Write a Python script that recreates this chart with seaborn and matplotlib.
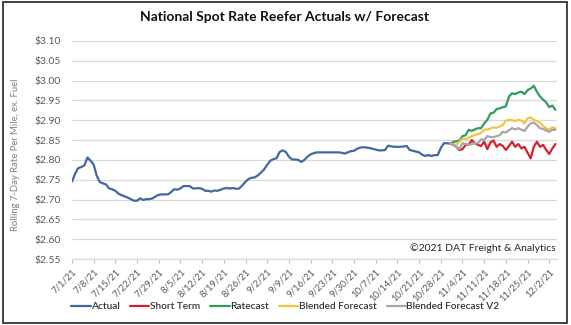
import numpy as np
import pandas as pd
import matplotlib
matplotlib.use("Agg")
import matplotlib.pyplot as plt
from matplotlib.lines import Line2D
from matplotlib.patches import Rectangle
import seaborn as sns

# Rolling 7-day reefer spot rate, $/mile ex. fuel, daily from 7/1/21
actual = [
    2.745, 2.765, 2.779, 2.782, 2.786, 2.806, 2.798, 2.788, 2.760, 2.744,
    2.741, 2.738, 2.728, 2.726, 2.722, 2.715, 2.711, 2.708, 2.705, 2.701,
    2.697, 2.697, 2.703, 2.699, 2.701, 2.701, 2.703, 2.708, 2.712, 2.713,
    2.713, 2.713, 2.719, 2.726, 2.725, 2.728, 2.734, 2.734, 2.734, 2.728,
    2.728, 2.729, 2.727, 2.722, 2.722, 2.720, 2.723, 2.722, 2.725, 2.728,
    2.729, 2.728, 2.729, 2.727, 2.728, 2.736, 2.745, 2.752, 2.755, 2.756,
    2.761, 2.768, 2.776, 2.788, 2.798, 2.802, 2.804, 2.820, 2.824, 2.820,
    2.808, 2.801, 2.801, 2.800, 2.795, 2.800, 2.808, 2.814, 2.817, 2.819,
    2.819, 2.819, 2.819, 2.819, 2.819, 2.819, 2.819, 2.818, 2.816, 2.819,
    2.822, 2.823, 2.828, 2.831, 2.832, 2.831, 2.830, 2.828, 2.826, 2.824,
    2.824, 2.825, 2.836, 2.834, 2.833, 2.833, 2.833, 2.834, 2.835, 2.825,
    2.823, 2.821, 2.819, 2.813, 2.810, 2.812, 2.810, 2.812, 2.812, 2.830,
    2.842, 2.842, 2.841,
]

# Forecasts, daily from 10/31/21 (last actual day)
short_term = [
    2.841, 2.838, 2.833, 2.825, 2.827, 2.838, 2.838, 2.850, 2.842, 2.838,
    2.835, 2.846, 2.827, 2.844, 2.849, 2.833, 2.840, 2.835, 2.825, 2.835,
    2.846, 2.833, 2.840, 2.829, 2.833, 2.818, 2.804, 2.833, 2.846, 2.833,
    2.838, 2.825, 2.815, 2.829, 2.840,
]
ratecast = [
    2.841, 2.845, 2.847, 2.849, 2.860, 2.862, 2.876, 2.873, 2.877, 2.880,
    2.880, 2.892, 2.901, 2.917, 2.919, 2.928, 2.930, 2.933, 2.935, 2.960,
    2.968, 2.966, 2.970, 2.972, 2.966, 2.976, 2.980, 2.987, 2.972, 2.960,
    2.952, 2.945, 2.933, 2.937, 2.926,
]
blended = [
    2.841, 2.840, 2.838, 2.846, 2.854, 2.853, 2.856, 2.860, 2.863, 2.865,
    2.868, 2.876, 2.877, 2.879, 2.882, 2.881, 2.884, 2.888, 2.899, 2.901,
    2.900, 2.898, 2.901, 2.899, 2.892, 2.905, 2.907, 2.901, 2.898, 2.894,
    2.886, 2.879, 2.877, 2.882, 2.880,
]
blended_v2 = [
    2.841, 2.838, 2.833, 2.828, 2.842, 2.840, 2.838, 2.840, 2.842, 2.842,
    2.852, 2.850, 2.860, 2.858, 2.857, 2.860, 2.862, 2.871, 2.869, 2.875,
    2.880, 2.877, 2.880, 2.876, 2.873, 2.884, 2.892, 2.894, 2.888, 2.880,
    2.878, 2.874, 2.871, 2.876, 2.876,
]

series_names = ["Actual", "Short Term", "Ratecast", "Blended Forecast", "Blended Forecast V2"]
series_colors = ["#41689f", "#d3222f", "#2f9e58", "#f3c343", "#a6a6a6"]
y_ticks = [2.55, 2.60, 2.65, 2.70, 2.75, 2.80, 2.85, 2.90, 2.95, 3.00, 3.05, 3.10]

start = pd.Timestamp("2021-07-01")
actual_dates = pd.date_range(start, periods=len(actual), freq="D")
fc_dates = pd.date_range(actual_dates[-1], periods=len(short_term), freq="D")

frames = [pd.DataFrame({"date": actual_dates, "rate": actual, "series": "Actual"})]
for name, vals in zip(series_names[1:], [short_term, ratecast, blended, blended_v2]):
    frames.append(pd.DataFrame({"date": fc_dates, "rate": vals, "series": name}))
df = pd.concat(frames, ignore_index=True)
df["day"] = (df["date"] - start).dt.days

sns.set_theme(style="white")
plt.rcParams["font.family"] = ["Lato", "DejaVu Sans"]

fig = plt.figure(figsize=(5.71, 3.25), dpi=100)
ax = fig.add_axes([0.126, 0.203, 0.849, 0.671])

sns.lineplot(data=df, x="day", y="rate", hue="series", hue_order=series_names,
             palette=dict(zip(series_names, series_colors)), linewidth=1.6,
             legend=False, ax=ax, sort=False)

last_day = int(df["day"].max())
ax.set_xlim(0, last_day + 0.4)
ax.set_ylim(2.55, 3.10)
ax.set_yticks(y_ticks)
ax.set_yticklabels([f"${v:.2f}" for v in y_ticks], fontsize=7.5, color="#595959")
ax.yaxis.grid(True, color="#d9d9d9", linewidth=0.9)
ax.set_axisbelow(True)

tick_days = list(range(0, last_day + 1, 7))
tick_labels = [f"{d.month}/{d.day}/{d.year % 100}" for d in (start + pd.to_timedelta(tick_days, unit="D"))]
ax.set_xticks(tick_days)
ax.set_xticklabels(tick_labels, rotation=45, ha="right", rotation_mode="anchor",
                   fontsize=6.8, color="#595959")
ax.tick_params(axis="x", length=3, width=0.8, color="#bfbfbf", direction="out", pad=3, bottom=True)
ax.tick_params(axis="y", length=0, pad=8)

for side in ["top", "right", "left"]:
    ax.spines[side].set_visible(False)
ax.spines["bottom"].set_color("#d9d9d9")
ax.spines["bottom"].set_linewidth(0.9)

ax.set_xlabel("")
ax.set_ylabel("Rolling 7-Day Rate Per Mile, ex. Fuel", fontsize=6.8, color="#7f7f7f", labelpad=6)
ax.yaxis.set_label_coords(-0.108, 0.48)

fig.text(0.4985, 0.948, "National Spot Rate Reefer Actuals w/ Forecast",
         ha="center", va="center", fontsize=10.0, fontweight="bold", color="#111111")
ax.text(0.9985, 0.05, "\u00a92021 DAT Freight & Analytics", transform=ax.transAxes,
        ha="right", va="center", fontsize=7.5, color="#262626")

handles = [Line2D([0], [0], color=c, linewidth=1.6) for c in series_colors]
fig.legend(handles, series_names, loc="center", bbox_to_anchor=(0.50, 0.056), ncol=5,
           frameon=False, handlelength=1.9, handletextpad=0.05,
           columnspacing=1.0, labelcolor="#333333",
           prop={"family": ["Lato", "DejaVu Sans"], "weight": "semibold", "size": 7.3})

fig.patches.append(Rectangle((3 / 571, 1 - 322.5 / 325), 564 / 571, 321 / 325,
                             transform=fig.transFigure, fill=False,
                             edgecolor="#222222", linewidth=1.2))

fig.savefig("out.png", dpi=100)
